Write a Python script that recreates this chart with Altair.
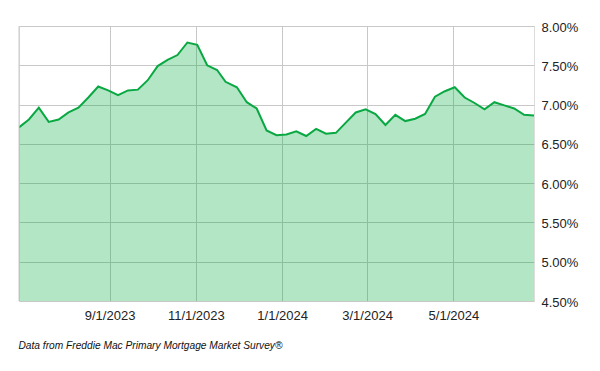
import altair as alt
import pandas as pd

dates = [
    "2023-06-29", "2023-07-06", "2023-07-13", "2023-07-20", "2023-07-27",
    "2023-08-03", "2023-08-10", "2023-08-17", "2023-08-24", "2023-08-31",
    "2023-09-07", "2023-09-14", "2023-09-21", "2023-09-28", "2023-10-05",
    "2023-10-12", "2023-10-19", "2023-10-26", "2023-11-02", "2023-11-09",
    "2023-11-16", "2023-11-22", "2023-11-30", "2023-12-07", "2023-12-14",
    "2023-12-21", "2023-12-28", "2024-01-04", "2024-01-11", "2024-01-18",
    "2024-01-25", "2024-02-01", "2024-02-08", "2024-02-15", "2024-02-22",
    "2024-02-29", "2024-03-07", "2024-03-14", "2024-03-21", "2024-03-28",
    "2024-04-04", "2024-04-11", "2024-04-18", "2024-04-25", "2024-05-02",
    "2024-05-09", "2024-05-16", "2024-05-23", "2024-05-30", "2024-06-06",
    "2024-06-13", "2024-06-20", "2024-06-27",
]
rates = [
    6.71, 6.81, 6.96, 6.78, 6.81,
    6.90, 6.96, 7.09, 7.23, 7.18,
    7.12, 7.18, 7.19, 7.31, 7.49,
    7.57, 7.63, 7.79, 7.76, 7.50,
    7.44, 7.29, 7.22, 7.03, 6.95,
    6.67, 6.61, 6.62, 6.66, 6.60,
    6.69, 6.63, 6.64, 6.77, 6.90,
    6.94, 6.88, 6.74, 6.87, 6.79,
    6.82, 6.88, 7.10, 7.17, 7.22,
    7.09, 7.02, 6.94, 7.03, 6.99,
    6.95, 6.87, 6.86,
]
y_ticks = [4.5, 5.0, 5.5, 6.0, 6.5, 7.0, 7.5, 8.0]
x_ticks = [(2023, 9, 1), (2023, 11, 1), (2024, 1, 1), (2024, 3, 1), (2024, 5, 1)]
footer = "Data from Freddie Mac Primary Mortgage Market Survey®"

df = pd.DataFrame({"date": dates, "rate": rates})

W, H = 515, 275
GRID = "#c8c8c8"
FONT = "Liberation Sans"
TXT = "#222222"

x_enc = alt.X(
    "date:T",
    scale=alt.Scale(type="utc",
                    domain=[alt.DateTime(year=2023, month=6, date=29, utc=True),
                            alt.DateTime(year=2024, month=6, date=27, utc=True)]),
    axis=alt.Axis(
        values=[alt.DateTime(year=y, month=m, date=d, utc=True) for y, m, d in x_ticks],
        labelExpr="utcFormat(datum.value, '%-m/%-d/%Y')",
        title=None, grid=True, gridColor=GRID,
        ticks=False, domain=False, labelFont=FONT, labelFontSize=13,
        labelColor=TXT, labelPadding=8, labelOverlap=False,
    ),
)
y_enc = alt.Y(
    "rate:Q",
    scale=alt.Scale(domain=[4.5, 8.0], nice=False, zero=False),
    axis=alt.Axis(
        orient="right", values=y_ticks, title=None, grid=True, gridColor=GRID,
        labelExpr="format(datum.value, '.2f') + '%'", domain=False,
        ticks=False, labelPadding=7, labelFont=FONT,
        labelFontSize=13, labelColor=TXT, labelOverlap=False,
        labelFlush=False, labelOffset=1,
    ),
)

base = alt.Chart(df).encode(x=x_enc, y=y_enc)
area = base.mark_area(color="#00ac3e", opacity=0.3, clip=True)
line = base.mark_line(color="#0aa843", strokeWidth=2, clip=True)
left = alt.Chart(pd.DataFrame({"a": [0]})).mark_rule(color=GRID, strokeWidth=1).encode(
    x=alt.value(0), y=alt.value(0), y2=alt.value(H)
)

chart = (
    alt.layer(area, line, left)
    .properties(
        width=W, height=H,
        autosize=alt.AutoSizeParams(type="none"),
        padding={"left": 19, "top": 26, "right": 66, "bottom": 70},
        title=alt.TitleParams(
            footer, orient="bottom", anchor="start", fontSize=10.2,
            fontStyle="italic", fontWeight="normal", font=FONT, color="#111111",
            offset=19,
        ),
    )
    .configure_view(stroke=None)
    .configure(background="white")
)

chart.save("out.html", embed_options={"renderer": "svg", "actions": False})
